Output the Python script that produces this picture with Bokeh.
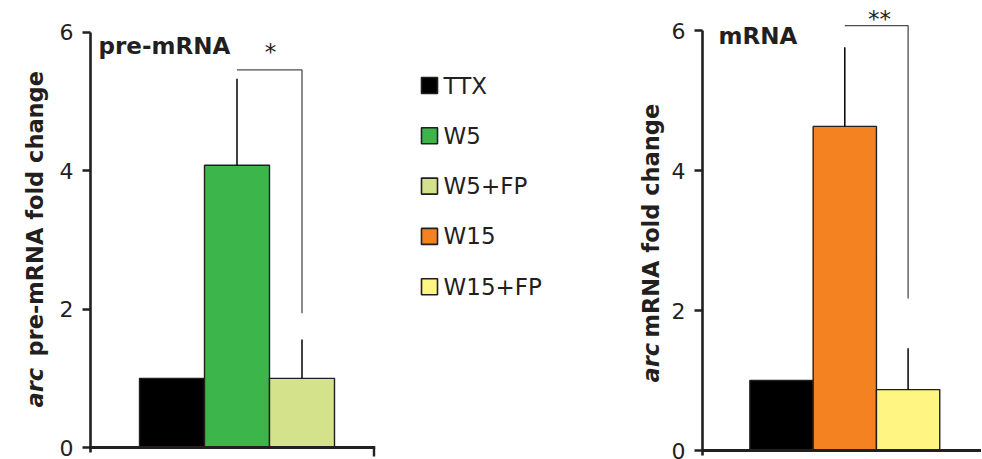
import math
from bokeh.plotting import figure
from bokeh.layouts import row
from bokeh.models import Range1d, FixedTicker, Label, ColumnDataSource, Span
from bokeh.core.properties import value
from bokeh.embed import file_html
from bokeh.resources import INLINE

# ---------------- data ----------------
pre_groups = ["TTX", "W5", "W5+FP"]
pre_mean = [1.0, 4.08, 1.0]
pre_err = [0.0, 1.25, 0.56]
pre_bracket = [5.46, 1.94]      # bracket top, bracket drop end (W5 vs W5+FP)
pre_sig = "*"

mrna_groups = ["TTX", "W15", "W15+FP"]
mrna_mean = [1.0, 4.63, 0.87]
mrna_err = [0.0, 1.13, 0.59]
mrna_bracket = [6.07, 2.17]     # bracket top, bracket drop end (W15 vs W15+FP)
mrna_sig = "**"

legend_labels = ["TTX", "W5", "W5+FP", "W15", "W15+FP"]
bar_colors = {"TTX": "#000000", "W5": "#3cb54a", "W5+FP": "#d4e28b",
              "W15": "#f58220", "W15+FP": "#fff583"}
y_ticks = [0, 2, 4, 6]

FONT = "DejaVu Sans"
INK = "#231f20"
H = 459


def blank(f):
    f.outline_line_color = None
    f.grid.visible = False
    f.background_fill_color = "white"
    f.border_fill_color = "white"


def panel(groups, mean, err, bracket, W, L, R, u, c, k, page_left, y0_page,
          end_tick):
    frame_w = W - L - R
    xs0 = 1 - c / u
    xe = xs0 + frame_w / u
    ys = -(H - y0_page) / k
    ye = y0_page / k
    page_frame_left = page_left + L

    def fx(px):
        return xs0 + (px - page_frame_left) / u

    def fy(py):
        return (y0_page - py) / k

    p = figure(width=W, height=H, output_backend="svg", toolbar_location=None,
               x_range=Range1d(xs0, xe), y_range=Range1d(ys, ye),
               x_axis_type=None,
               min_border_left=L, min_border_right=R, min_border_top=0,
               min_border_bottom=0)
    blank(p)

    xs = list(range(1, len(groups) + 1))
    src = ColumnDataSource(dict(x=xs, top=mean,
                                color=[bar_colors[g] for g in groups]))
    p.vbar(x="x", top="top", width=1.0, bottom=0, source=src,
           fill_color="color", line_color=INK, line_width=1.4)
    tops = [m + e for m, e in zip(mean, err)]
    p.segment(x0=xs, y0=mean, x1=xs, y1=tops, line_color="#000000", line_width=1.5)

    # significance bracket between 2nd and 3rd bar
    p.line(x=[xs[1], xs[2], xs[2]], y=[bracket[0], bracket[0], bracket[1]],
           line_color="#4d4d4f", line_width=1.3)

    # x axis line (baseline) and optional end tick
    p.add_layout(Span(location=0, dimension="width", line_color=INK, line_width=2.8))
    if end_tick:
        p.segment(x0=[xe - 1.4 / u], y0=[0], x1=[xe - 1.4 / u], y1=[-9 / k],
                  line_color=INK, line_width=2.6)

    # y axis
    ya = p.yaxis[0]
    ya.ticker = FixedTicker(ticks=y_ticks)
    ya.bounds = (-5 / k, 6)
    ya.axis_line_color = INK
    ya.axis_line_width = 2.6
    ya.major_tick_line_color = INK
    ya.major_tick_line_width = 2.6
    ya.major_tick_out = 8
    ya.major_tick_in = 0
    ya.minor_tick_line_color = None
    ya.major_label_text_font = FONT
    ya.major_label_text_font_size = "22px"
    ya.major_label_text_color = INK
    ya.major_label_standoff = 9

    return p, fx, fy


def add_texts(p, fx, fy, title, title_px, sig, sig_px):
    p.add_layout(Label(x=fx(title_px[0]), y=fy(title_px[1]), text=title,
                       text_font=FONT, text_font_size="23px", text_font_style="bold",
                       text_color=INK, text_align="left", text_baseline="alphabetic"))
    p.add_layout(Label(x=fx(sig_px[0]), y=fy(sig_px[1]), text=sig,
                       text_font=FONT, text_font_size="23px",
                       text_color=INK, text_align="center", text_baseline="alphabetic"))


def label_fig(page_left, w, base_x, arc_y, rest_y, rest_text):
    f = figure(width=w, height=H, output_backend="svg", toolbar_location=None,
               x_range=Range1d(page_left, page_left + w), y_range=Range1d(0, H),
               x_axis_type=None, y_axis_type=None, min_border=0)
    blank(f)
    f.text(x=[base_x, base_x], y=[H - arc_y, H - rest_y], text=["arc", rest_text],
           angle=math.pi / 2, text_font=value(FONT), text_font_size="22.5px",
           text_font_style=["bold italic", "bold"], text_color=INK,
           text_align="left", text_baseline="alphabetic")
    return f


# ---------------- left: y label + pre-mRNA panel ----------------
lab1 = label_fig(0, 50, 34, 407, 356, "pre-mRNA fold change")
p1, fx1, fy1 = panel(pre_groups, pre_mean, pre_err, pre_bracket,
                     W=350, L=40, R=25, u=65.0, c=81.5, k=69.17,
                     page_left=50, y0_page=447, end_tick=True)
add_texts(p1, fx1, fy1, "pre-mRNA", (98, 45), pre_sig, (270, 51))

# ---------------- middle: legend ----------------
pm = figure(width=210, height=H, output_backend="svg", toolbar_location=None,
            x_range=Range1d(0, 210), y_range=Range1d((H - 85) / 50.3, -85 / 50.3),
            x_axis_type=None, y_axis_type=None, min_border=0)
blank(pm)
idx = list(range(len(legend_labels)))
pm.scatter(x=[29] * len(idx), y=idx, marker="square", size=16,
           fill_color=[bar_colors[g] for g in legend_labels],
           line_color=INK, line_width=1.6)
pm.text(x=[43] * len(idx), y=idx, text=legend_labels,
        text_font=value(FONT), text_font_size="23px", text_color=INK,
        text_baseline="middle", text_align="left")

# ---------------- right: y label + mRNA panel ----------------
lab2 = label_fig(610, 56, 650, 382, 337, "mRNA fold change")
p2, fx2, fy2 = panel(mrna_groups, mrna_mean, mrna_err, mrna_bracket,
                     W=315, L=36, R=0, u=63.3, c=79.0, k=70.0,
                     page_left=666, y0_page=450, end_tick=False)
add_texts(p2, fx2, fy2, "mRNA", (718, 35), mrna_sig, (879, 18))

layout = row(lab1, p1, pm, lab2, p2)
open("out.html", "w").write(file_html(layout, INLINE))
